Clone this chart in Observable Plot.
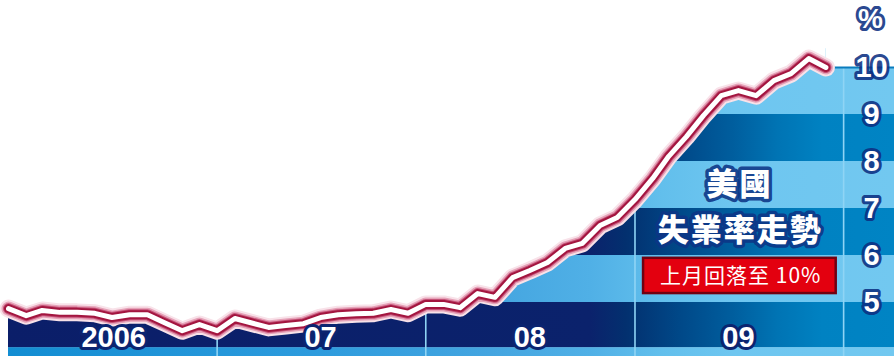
<!DOCTYPE html>
<html><head><meta charset="utf-8">
<script src="https://cdn.jsdelivr.net/npm/d3@7"></script>
<script src="https://cdn.jsdelivr.net/npm/@observablehq/plot@0.6"></script>
<style>
html,body{margin:0;padding:0;background:#fff;}
#chart{width:894px;height:356px;overflow:hidden;}
</style></head><body><div id="chart"></div>
<script>
// ---- data (US unemployment rate, monthly, Jan 2006 – Dec 2009) ----
const firstMonth = "2006-01-01";
const lastMonthExclusive = "2010-01-01";
const rates = [
  4.87, 4.72, 4.83, 4.79, 4.79, 4.77, 4.68, 4.74, 4.74, 4.57, 4.40, 4.53,
  4.40, 4.66, 4.57, 4.47, 4.51, 4.55, 4.68, 4.74, 4.76, 4.77, 4.85, 4.77,
  4.96, 4.96, 4.89, 5.19, 5.11, 5.53, 5.68, 5.85, 6.15, 6.26, 6.64, 6.81,
  7.19, 7.64, 8.11, 8.53, 8.98, 9.40, 9.51, 9.40, 9.72, 9.87, 10.19, 10.00
];
const yearLabels = ["2006", "07", "08", "09"];
const yearLabelDates = ["2006-07-04", "2007-07-01", "2008-07-01", "2009-07-01"];
const yearStartDates = ["2007-01-01", "2008-01-01", "2009-01-01", "2010-01-01"];
const yTicks = [5, 6, 7, 8, 9, 10];
const unitLabel = "%";
const bandLow  = [3.85, 4.04, 5, 6, 7, 8, 9];
const bandHigh = [4.04, 5, 6, 7, 8, 9, 10];
const bandTone = ["light", "dark", "light", "dark", "light", "dark", "light"];
const titleLines = ["美國", "失業率走勢"];
const titleDates = ["2009-07-03", "2009-07-04"];
const titleValues = [7.49, 6.53];
const noteText = "上月回落至 10%";
const noteDate = "2009-07-05";
const noteValue = 5.55;
const noteBox = {x1: "2009-01-16", x2: "2009-12-19", y1: 5.19, y2: 5.94};

// ---- derived tables ----
const dates = d3.utcMonths(new Date(firstMonth), new Date(lastMonthExclusive));
const data = rates.map((r, i) => ({date: dates[i], rate: r}));
const xStart = new Date(firstMonth);
const xEnd = new Date("2010-03-31");
const yMin = 5 - 54 / 47, yMax = 10 + 67 / 47;
const bands = bandLow.map((lo, i) => ({x1: dates[0], x2: xEnd, y1: lo, y2: bandHigh[i], tone: bandTone[i]}));
const gridDates = yearStartDates.map(d => new Date(d));

const numFont = "Liberation Sans, Arial, sans-serif";
const cjkFont = "Noto Sans CJK TC, Noto Sans CJK SC, sans-serif";

const lineCommon = {x: "date", y: "rate", strokeLinejoin: "round", strokeLinecap: "round"};

const svg = Plot.plot({
  width: 894, height: 356,
  marginLeft: 8, marginRight: 0, marginTop: 0, marginBottom: 0,
  x: {type: "utc", domain: [xStart, xEnd], axis: null},
  y: {domain: [yMin, yMax], axis: null},
  style: {background: "white", overflow: "visible"},
  marks: [
    Plot.rect(bands.filter(d => d.tone === "light"), {x1: "x1", x2: "x2", y1: "y1", y2: "y2", fill: "url(#gLight)"}),
    Plot.rect(bands.filter(d => d.tone === "dark"), {x1: "x1", x2: "x2", y1: "y1", y2: "y2", fill: "url(#gDark)"}),
    Plot.rect([{x1: dates[0], x2: dates[dates.length - 1], y1: 10, y2: 10.4}], {x1: "x1", x2: "x2", y1: "y1", y2: "y2", fill: "url(#gLight)"}),
    Plot.ruleX(gridDates, {x: d => d, y1: yMin, y2: 10, stroke: "#8fd4f5", strokeWidth: 1.6}),
    Plot.areaY(data, {x: "date", y1: "rate", y2: yMax, fill: "white"}),
    Plot.ruleY([10], {x1: dates[dates.length - 1], x2: xEnd, stroke: "#0a7cbd", strokeWidth: 2}),
    // right axis tick labels
    Plot.text(yTicks, {y: d => d, frameAnchor: "right", dx: -23, text: d => String(d), textAnchor: "middle",
      fill: "white", stroke: "#0d2f82", strokeWidth: 6, strokeOpacity: 0.9, fontSize: 29, fontWeight: "bold", fontFamily: numFont}),
    Plot.text([unitLabel], {frameAnchor: "top-right", lineAnchor: "middle", dx: -24, dy: 19, text: d => d, textAnchor: "middle",
      fill: "white", stroke: "#0d2f82", strokeWidth: 6, strokeOpacity: 0.9, fontSize: 28, fontWeight: "bold", fontFamily: numFont}),
    // line with glow
    Plot.line(data, {...lineCommon, stroke: "#f8e2e9", strokeWidth: 18}),
    Plot.line(data, {...lineCommon, stroke: "#e6a3b9", strokeWidth: 14}),
    Plot.line(data, {...lineCommon, stroke: "#c45277", strokeWidth: 11}),
    Plot.line(data, {...lineCommon, stroke: "#a3153f", strokeWidth: 9}),
    Plot.line(data, {...lineCommon, stroke: "white", strokeWidth: 5}),
    // year labels
    Plot.text(yearLabelDates, {x: d => new Date(d), frameAnchor: "bottom", lineAnchor: "middle", dy: -18.5,
      text: (d, i) => yearLabels[i], fill: "white", stroke: "#0b2470", strokeWidth: 6, fontSize: 29, fontWeight: "bold", fontFamily: numFont}),
    // annotation
    Plot.text(titleLines, {x: (d, i) => new Date(titleDates[i]), y: (d, i) => titleValues[i], text: d => d,
      fill: "white", stroke: "#0d3586", strokeWidth: 7, strokeOpacity: 0.9, fontSize: 31, fontWeight: 900, fontFamily: cjkFont}),
    Plot.rect([noteBox], {x1: d => new Date(d.x1), x2: d => new Date(d.x2), y1: "y1", y2: "y2",
      fill: "#e3000f", stroke: "#720010", strokeWidth: 2.5}),
    Plot.text([noteText], {x: () => new Date(noteDate), y: () => noteValue, text: d => d,
      fill: "white", fontSize: 21, fontWeight: "normal", fontFamily: cjkFont})
  ]
});

// gradient definitions (style only)
const defs = d3.select(svg).insert("defs", ":first-child");
function grad(id, stops) {
  const g = defs.append("linearGradient").attr("id", id)
    .attr("gradientUnits", "userSpaceOnUse").attr("x1", 0).attr("x2", 894).attr("y1", 0).attr("y2", 0);
  stops.forEach(([o, c]) => g.append("stop").attr("offset", o).attr("stop-color", c));
}
grad("gDark", [[0, "#0b1e69"], [0.66, "#0b226c"], [0.70, "#03306f"], [0.76, "#004888"], [0.82, "#005e9e"], [0.87, "#0074b4"], [0.92, "#0082c2"], [1, "#0084c4"]]);
grad("gLight", [[0, "#128dd2"], [0.35, "#2d9bdd"], [0.55, "#44a5e0"], [0.66, "#50b0e6"], [0.74, "#62bfec"], [0.82, "#6ec6f0"], [1, "#72c8f0"]]);

d3.select(svg).selectAll("text").each(function () {
  const t = this.textContent;
  if (t === titleLines[1]) d3.select(this).attr("letter-spacing", "2");
  if (t === titleLines[0]) d3.select(this).attr("letter-spacing", "2");
  if (t === noteText) d3.select(this).attr("letter-spacing", "1");
});

document.getElementById("chart").append(svg);
</script>
</body></html>
